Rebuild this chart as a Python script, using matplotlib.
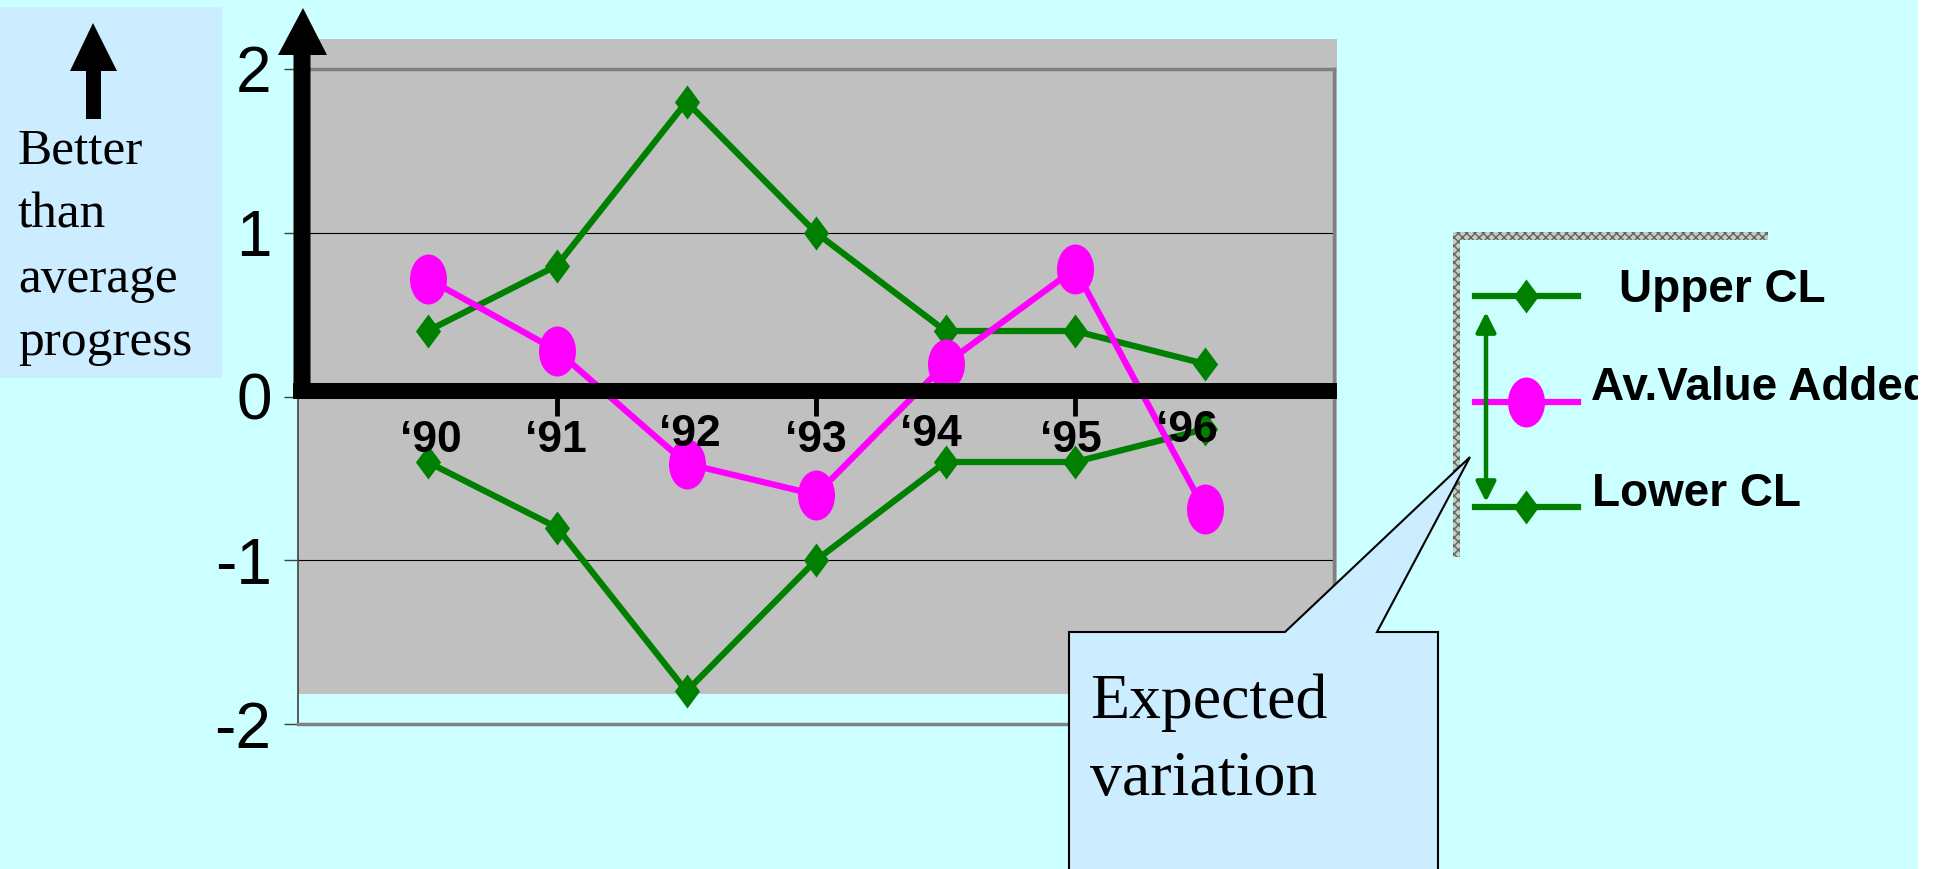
import matplotlib
matplotlib.use('Agg')
import matplotlib.pyplot as plt
from matplotlib.path import Path
from matplotlib.patches import Rectangle, Polygon, FancyArrowPatch
from matplotlib.lines import Line2D
from matplotlib.transforms import Affine2D, ScaledTranslation, Bbox, TransformedBbox

# data
years = ['\u201890', '\u201891', '\u201892', '\u201893', '\u201894', '\u201895', '\u201896']
upper_cl = [0.4, 0.8, 1.8, 1.0, 0.4, 0.4, 0.2]
av_value_added = [0.72, 0.28, -0.41, -0.6, 0.2, 0.78, -0.69]
lower_cl = [-0.4, -0.8, -1.8, -1.0, -0.4, -0.4, -0.2]
y_ticks = [-2, -1, 0, 1, 2]
y_tick_labels = ['-2', '-1', '0', '1', '2']
legend_labels = ['Upper CL', 'Av.Value Added', 'Lower CL']
side_text = ['Better', 'than', 'average', 'progress']
callout_text = ['Expected', 'variation']

W, H = 1942, 869
BG = '#CCFFFF'
BOX = '#CCECFF'
GREEN = '#008000'
MAGENTA = '#FF00FF'

plt.rcParams['font.family'] = ['Liberation Sans', 'DejaVu Sans']

fig = plt.figure(figsize=(W / 100, H / 100), dpi=100, facecolor='white')
# pixel coordinates of the picture (y down), for the slide decorations
pix = Affine2D().scale(1 / W, -1 / H).translate(0, 1) + fig.transFigure

# the slide itself stops a little before the right edge
slide_w = 1918
fig.add_artist(Rectangle((0, 0), slide_w, H, transform=pix, facecolor=BG,
                         edgecolor='none', zorder=-10))
slide_clip = TransformedBbox(Bbox([[0, 0], [slide_w, H]]), pix)

ax = fig.add_axes([298 / W, 1 - 724 / H, 1036 / W, 655 / H])
ax.set_facecolor('none')
ax.set_xlim(0, 8)
ax.set_ylim(-2, 2)

# markers: thin diamond and upright ellipse
diamond = Path([(0, 1), (0.74, 0), (0, -1), (-0.74, 0), (0, 1)],
               [Path.MOVETO, Path.LINETO, Path.LINETO, Path.LINETO, Path.CLOSEPOLY])
ellipse = Path.unit_circle().transformed(Affine2D().scale(0.74, 1))

# grey plot area (shifted up like on the slide)
ax.add_patch(Rectangle((0, -1.817), 8.02, 4.0, facecolor='#C0C0C0', edgecolor='none',
                       zorder=0, clip_on=False))

ax.set_axisbelow(True)
ax.grid(axis='y', color='black', lw=0.8)
ax.set_xticks([])
ax.set_yticks(y_ticks)
ax.set_yticklabels(y_tick_labels)
ax.tick_params(axis='y', direction='out', length=10, width=1, color='#404040',
               pad=9, labelsize=46)
for side in ['top', 'right', 'bottom']:
    ax.spines[side].set_color('#808080')
    ax.spines[side].set_linewidth(2.5)
ax.spines['left'].set_color('#404040')
ax.spines['left'].set_linewidth(1.2)

x = list(range(1, len(years) + 1))
ax.plot(x, upper_cl, color=GREEN, lw=4.5, marker=diamond, ms=24.5, mew=0, zorder=3, clip_on=False)
ax.plot(x, lower_cl, color=GREEN, lw=4.5, marker=diamond, ms=24.5, mew=0, zorder=3, clip_on=False)
ax.plot(x, av_value_added, color=MAGENTA, lw=4.5, marker=ellipse, ms=36, mew=0, zorder=3.5,
        clip_on=False)

# thick category axis at zero
up = ax.transData + ScaledTranslation(0, 0.055, fig.dpi_scale_trans)
ax.plot([-0.04, 8.02], [0, 0], color='black', lw=11.5, solid_capstyle='butt',
        transform=up, zorder=4, clip_on=False)
ax.vlines([2, 4, 6], -0.12, 0, color='black', lw=3.5, zorder=4)

label_dx = [3, -1, 3, 0, -15, -4, -18]
label_dy = [-24, -24, -17, -24, -17, -24, -14]
for xi, lab, dx, dy in zip(x, years, label_dx, label_dy):
    ax.annotate(lab, xy=(xi, 0), xytext=(dx, dy), textcoords='offset pixels',
                ha='center', va='top', fontsize=32, fontweight='bold', zorder=6)

# thick value axis with arrow head
fig.add_artist(Polygon([(293.5, 398), (293.5, 55), (278, 55), (303, 8), (327, 55),
                        (310.5, 55), (310.5, 398)], closed=True, transform=pix,
                       facecolor='black', edgecolor='none', zorder=5))

# left text box with block arrow
fig.add_artist(Rectangle((0, 7), 222, 371, transform=pix, facecolor=BOX,
                         edgecolor='none', zorder=1))
fig.add_artist(Polygon([(86, 119), (86, 71), (70, 71), (93, 23), (117, 71), (101, 71),
                        (101, 119)], closed=True, transform=pix, facecolor='black',
                       edgecolor='none', zorder=2))
for line, base in zip(side_text, [163, 228, 292, 355]):
    fig.text(18, base, line, transform=pix, family='Liberation Serif', fontsize=37,
             va='baseline', ha='left', zorder=2)

# legend
frame_kw = dict(transform=pix, facecolor='#C4CCC4', edgecolor='#5E665E', hatch='xxxx',
                lw=0, zorder=2)
fig.add_artist(Rectangle((1453, 232), 315, 8, **frame_kw))
fig.add_artist(Rectangle((1453, 232), 7, 325, **frame_kw))

leg_y = [296, 402, 507]
leg_style = [(GREEN, diamond, 24.5), (MAGENTA, ellipse, 36), (GREEN, diamond, 24.5)]
leg_text = [(1619, 302), (1591, 400), (1592, 506)]
for ly, (col, mk, ms), (tx, ty), lab in zip(leg_y, leg_style, leg_text, legend_labels):
    fig.add_artist(Line2D([1475, 1578], [ly, ly], transform=pix, color=col, lw=4.5, zorder=3))
    fig.add_artist(Line2D([1526], [ly], transform=pix, color=col, marker=mk, ms=ms, mew=0,
                          zorder=3))
    t = fig.text(tx, ty, lab, transform=pix, fontsize=33, fontweight='bold', va='baseline',
                 ha='left', zorder=3)
    t.set_clip_box(slide_clip)
    t.set_clip_on(True)

fig.add_artist(FancyArrowPatch((1486, 312), (1486, 502), transform=pix,
                               arrowstyle='<|-|>,head_length=0.6,head_width=0.3',
                               mutation_scale=20, color=GREEN, lw=3.2, shrinkA=0, shrinkB=0,
                               zorder=3))

# callout
fig.add_artist(Polygon([(1069, 900), (1069, 632), (1285, 632), (1470, 457), (1377, 632),
                        (1438, 632), (1438, 900)], closed=True, transform=pix,
                       facecolor=BOX, edgecolor='black', lw=1.5, zorder=10))
for line, base in zip(callout_text, [718, 795]):
    fig.text(1090, base, line, transform=pix, family='Liberation Serif', fontsize=46,
             va='baseline', ha='left', zorder=11)

fig.savefig('out.png', dpi=100, facecolor='white')
